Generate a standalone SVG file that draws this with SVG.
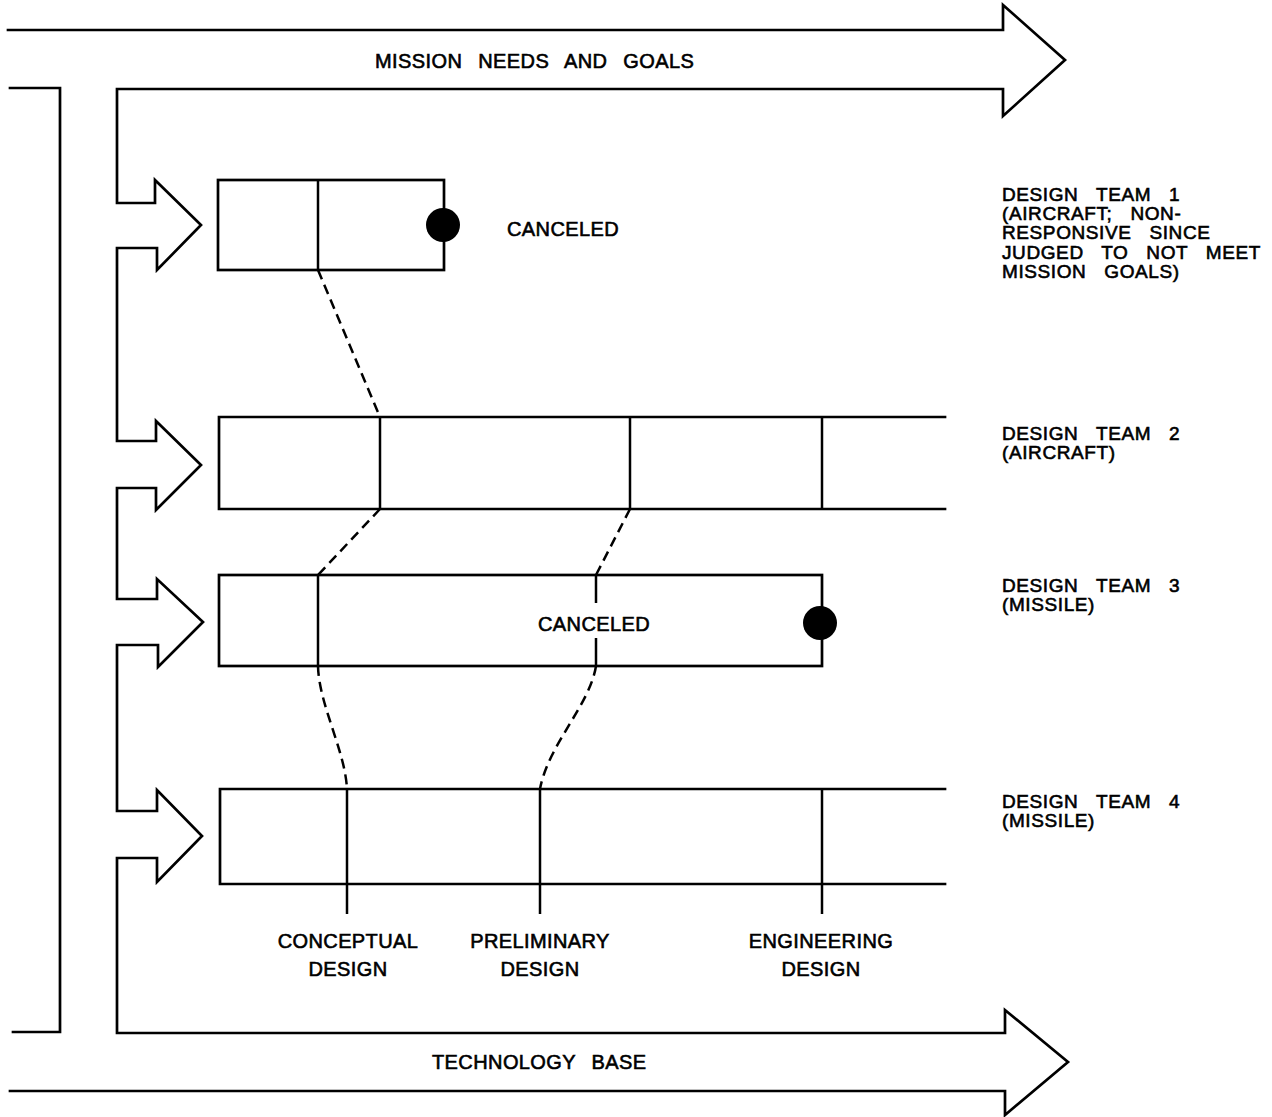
<svg xmlns="http://www.w3.org/2000/svg" width="1272" height="1117" viewBox="0 0 1272 1117">
<style>
.ln{fill:none;stroke:#000;stroke-width:2.7;stroke-linejoin:miter;stroke-linecap:square}
.dv{fill:none;stroke:#000;stroke-width:2.5}
.ds{fill:none;stroke:#000;stroke-width:2.5;stroke-dasharray:10 6}
.t{font-family:"Liberation Sans",Arial,Helvetica,sans-serif;font-size:20px;fill:#000;word-spacing:10px;letter-spacing:0.4px;stroke:#000;stroke-width:0.6}
.tl{font-family:"Liberation Sans",Arial,Helvetica,sans-serif;font-size:19px;fill:#000;word-spacing:12px;letter-spacing:0.6px;stroke:#000;stroke-width:0.6}
.dot{fill:#000}
</style>
<rect width="1272" height="1117" fill="#fff"/>
<g id="flow-frame">
  <path class="ln" d="M8,30 L1003,30 L1003,5 L1065,60 L1003,116 L1003,89 L117,89 L117,203 L155,203 L155,180 L201,225 L157,270 L157,248 L117,248 L117,441 L156,441 L156,421 L201,465 L156,510 L156,488 L117,488 L117,599 L157,599 L157,579 L203,622 L158,667 L158,645 L117,645 L117,811 L157,811 L157,790 L202,836 L157,882 L157,858 L117,858 L117,1033 L1005,1033 L1005,1010 L1068,1062 L1005,1115 L1005,1091 L10,1091"/>
  <path class="ln" d="M10,88 L60,88 L60,1032 L13,1032"/>
  <text class="t" x="375" y="68">MISSION NEEDS AND GOALS</text>
  <text class="t" x="432" y="1069">TECHNOLOGY BASE</text>
</g>
<g id="team1">
  <rect class="ln" x="218" y="180" width="226" height="90"/>
  <line class="dv" x1="318" y1="180" x2="318" y2="270"/>
  <circle class="dot" cx="443" cy="225" r="17"/>
  <text class="t" x="507" y="236">CANCELED</text>
  <text class="tl" x="1002" y="201">DESIGN TEAM 1</text>
  <text class="tl" x="1002" y="220">(AIRCRAFT; NON-</text>
  <text class="tl" x="1002" y="239">RESPONSIVE SINCE</text>
  <text class="tl" x="1002" y="259">JUDGED TO NOT MEET</text>
  <text class="tl" x="1002" y="278">MISSION GOALS)</text>
</g>
<g id="team2">
  <path class="ln" d="M945,417 L219,417 L219,509 L945,509"/>
  <line class="dv" x1="380" y1="417" x2="380" y2="509"/>
  <line class="dv" x1="630" y1="417" x2="630" y2="509"/>
  <line class="dv" x1="822" y1="417" x2="822" y2="509"/>
  <text class="tl" x="1002" y="440">DESIGN TEAM 2</text>
  <text class="tl" x="1002" y="459">(AIRCRAFT)</text>
</g>
<g id="team3">
  <rect class="ln" x="219" y="575" width="603" height="91"/>
  <line class="dv" x1="318" y1="575" x2="318" y2="666"/>
  <line class="dv" x1="596" y1="575" x2="596" y2="603"/>
  <line class="dv" x1="596" y1="638" x2="596" y2="666"/>
  <circle class="dot" cx="820" cy="623" r="17"/>
  <text class="t" x="538" y="631">CANCELED</text>
  <text class="tl" x="1002" y="592">DESIGN TEAM 3</text>
  <text class="tl" x="1002" y="611">(MISSILE)</text>
</g>
<g id="team4">
  <path class="ln" d="M945,789 L220,789 L220,884 L945,884"/>
  <line class="dv" x1="347" y1="789" x2="347" y2="914"/>
  <line class="dv" x1="540" y1="789" x2="540" y2="914"/>
  <line class="dv" x1="822" y1="789" x2="822" y2="914"/>
  <text class="tl" x="1002" y="808">DESIGN TEAM 4</text>
  <text class="tl" x="1002" y="827">(MISSILE)</text>
</g>
<g id="phase-labels">
  <text class="t" x="348" y="948" text-anchor="middle">CONCEPTUAL</text>
  <text class="t" x="348" y="976" text-anchor="middle">DESIGN</text>
  <text class="t" x="540" y="948" text-anchor="middle">PRELIMINARY</text>
  <text class="t" x="540" y="976" text-anchor="middle">DESIGN</text>
  <text class="t" x="821" y="948" text-anchor="middle">ENGINEERING</text>
  <text class="t" x="821" y="976" text-anchor="middle">DESIGN</text>
</g>
<g id="connectors">
  <path class="ds" d="M318,270 L380,417"/>
  <path class="ds" d="M380,509 L318,575"/>
  <path class="ds" d="M630,509 L596,575"/>
  <path class="ds" d="M318,666 C319,705 345,750 347,789"/>
  <path class="ds" d="M596,666 C590,705 548,745 540,789"/>
</g>
</svg>
